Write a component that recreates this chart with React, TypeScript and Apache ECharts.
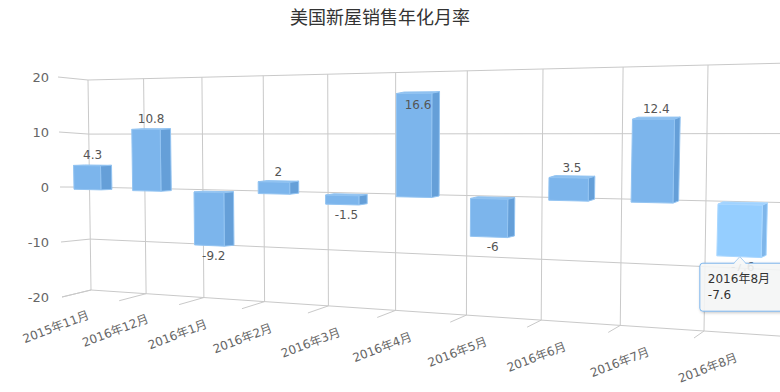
import React, { useEffect, useRef } from "react";
import * as echarts from "echarts";

const titleText = "美国新屋销售年化月率";
const categories = ["2015年11月", "2016年12月", "2016年1月", "2016年2月", "2016年3月", "2016年4月", "2016年5月", "2016年6月", "2016年7月", "2016年8月"];
const values = [4.3, 10.8, -9.2, 2, -1.5, 16.6, -6, 3.5, 12.4, -7.6];
const yTicks = [-20, -10, 0, 10, 20];
const hoveredIndex = 9;

const W = 780, H = 392;
const GRID = { left: 60, top: 77, width: 700, height: 220 };
const FONT = "'DejaVu Sans', 'Noto Sans CJK SC', sans-serif";

type P = [number, number];
// Square-to-quad projective map: the flat chart plane is warped on to a tilted plane.
function homography(p0: P, p1: P, p2: P, p3: P) {
  const dx1 = p1[0] - p2[0], dx2 = p3[0] - p2[0], sx = p0[0] - p1[0] + p2[0] - p3[0];
  const dy1 = p1[1] - p2[1], dy2 = p3[1] - p2[1], sy = p0[1] - p1[1] + p2[1] - p3[1];
  const den = dx1 * dy2 - dx2 * dy1;
  const g = (sx * dy2 - dx2 * sy) / den, h = (dx1 * sy - sx * dy1) / den;
  const a = p1[0] - p0[0] + g * p1[0], b = p3[0] - p0[0] + h * p3[0], c = p0[0];
  const d = p1[1] - p0[1] + g * p1[1], e = p3[1] - p0[1] + h * p3[1], f = p0[1];
  return (s: number, t: number): P => {
    const w = g * s + h * t + 1;
    return [(a * s + b * t + c) / w, (d * s + e * t + f) / w];
  };
}
const LAST = categories.length - 1;
const wallPlane = homography([88, 80], [708, 65], [704, 331], [91, 290]);
const backWall = (s: number, t: number) => wallPlane(s, t + 0.03 * t * (1 - t));
const frontPlane = homography([58, 76], [706, 60], [694, 338], [62, 297]);
const barPlane = homography([72, 78], [721, 66.5], [715, 339.5], [76, 299]);

// Turn a position from the chart's own axes into plane coordinates.
const toS = (px: number, band: number) => ((px - GRID.left) / band - 0.5) / LAST;
const toT = (py: number) => (py - GRID.top) / GRID.height;

const LINE = "#c9c9c9";
const FRONT = "#7cb5ec", FRONT_EDGE = "#93c4f2", SIDE = "#659fd8", TOP = "#8cc0f0";
const HOT = "#95ceff", HOT_EDGE = "#a9d7ff", HOT_SIDE = "#7fb6ea", HOT_TOP = "#9fd2ff";

const lineEl = (a: P, b: P, stroke = LINE) => ({
  type: "line",
  shape: { x1: a[0], y1: a[1], x2: b[0], y2: b[1] },
  style: { stroke, lineWidth: 1, fill: "none" },
  silent: true,
});

function renderHLine(_: any, api: any) {
  const v = api.value(1);
  const band = api.size([1, 0])[0];
  const [px, py] = api.coord([0, v]);
  const t = toT(py);
  const s0 = toS(px, band);
  const front: P = [frontPlane(0, t)[0], py];
  const back = backWall(s0, t);
  const far = backWall((LAST + 1.1) / LAST, t);
  return { type: "group", children: [lineEl(front, back), lineEl(back, far)] };
}

function renderVLine(_: any, api: any) {
  const i = api.value(0);
  const band = api.size([1, 0])[0];
  const [px, top] = api.coord([i, yTicks[yTicks.length - 1]]);
  const bottom = api.coord([i, yTicks[0]])[1];
  const s = toS(px, band);
  const a = backWall(s, toT(top)), b = backWall(s, toT(bottom));
  const foot = frontPlane(s, toT(bottom));
  const u = s * LAST;
  return {
    type: "group",
    children: [
      lineEl(a, b),
      lineEl(b, foot),
      {
        type: "text",
        x: foot[0] - 6 + 2.2 * u,
        y: foot[1] + 30,
        rotation: (21 * Math.PI) / 180,
        silent: true,
        style: {
          text: categories[i],
          fill: "#666666",
          fontSize: 12,
          fontFamily: FONT,
          align: "center",
          verticalAlign: "middle",
        },
      },
    ],
  };
}

function barSpan(i: number): [number, number] {
  const left = i - 0.001 * i * (LAST - i);
  return [left / LAST, (left + 0.46 + 0.004 * i) / LAST];
}

function renderBar(_: any, api: any) {
  const i = api.value(0), v = api.value(1);
  const [, pv] = api.coord([i, v]);
  const p0 = api.coord([i, 0])[1];
  const [u0, u1] = barSpan(i);
  const hi = toT(Math.min(pv, p0)), lo = toT(Math.max(pv, p0));
  const fl = barPlane(u0, hi), fr = barPlane(u1, hi), br = barPlane(u1, lo), bl = barPlane(u0, lo);
  const dx = 11 - (6 * i) / LAST, dy = -(0.5 + 0.2 * i);
  const off = (p: P): P => [p[0] + dx, p[1] + dy];
  const hot = i === hoveredIndex;
  const face = (pts: P[], fill: string) => ({
    type: "polygon",
    shape: { points: pts },
    silent: true,
    style: { fill, stroke: hot ? HOT_EDGE : FRONT_EDGE, lineWidth: 1 },
  });
  const inside = v > 15;
  const cx = (fl[0] + off(fr)[0]) / 2;
  const ly = v >= 0 ? (inside ? fl[1] + 11 : fl[1] - 10) : bl[1] + 11;
  return {
    type: "group",
    children: [
      face([fl, fr, off(fr), off(fl)], hot ? HOT_TOP : TOP),
      face([fr, off(fr), off(br), br], hot ? HOT_SIDE : SIDE),
      face([fl, fr, br, bl], hot ? HOT : FRONT),
      {
        type: "text",
        x: cx,
        y: ly,
        silent: true,
        style: {
          text: String(v),
          fill: "#555555",
          fontSize: 12,
          fontFamily: FONT,
          align: "center",
          verticalAlign: "middle",
        },
      },
    ],
  };
}

function renderTooltip(_: any, api: any) {
  const i = api.value(0), v = api.value(1);
  const [, pv] = api.coord([i, v]);
  const [u0, u1] = barSpan(i);
  const foot = barPlane((u0 + u1) / 2, toT(pv));
  const tipX = foot[0] + 1, tipY = foot[1];
  const boxX = tipX - 40, boxY = tipY + 6.5;
  const fill = "rgba(247,248,248,0.88)";
  return {
    type: "group",
    children: [
      {
        type: "rect",
        shape: { x: boxX, y: boxY, width: 120, height: 48, r: 3 },
        silent: true,
        style: { fill, stroke: FRONT, lineWidth: 1, shadowBlur: 3, shadowColor: "rgba(0,0,0,0.25)", shadowOffsetX: 1, shadowOffsetY: 1 },
      },
      {
        type: "polygon",
        shape: { points: [[tipX - 6, boxY + 0.8], [tipX, tipY], [tipX + 6, boxY + 0.8]] },
        silent: true,
        style: { fill: "#f7f8f8" },
      },
      {
        type: "polyline",
        shape: { points: [[tipX - 6, boxY], [tipX, tipY], [tipX + 6, boxY]] },
        silent: true,
        style: { stroke: "#a9cff3", lineWidth: 1, fill: "none" },
      },
      {
        type: "text",
        x: boxX + 8,
        y: boxY + 16,
        silent: true,
        style: { text: categories[i], fill: "#333333", fontSize: 12, fontFamily: FONT, align: "left", verticalAlign: "middle" },
      },
      {
        type: "text",
        x: boxX + 8,
        y: boxY + 32,
        silent: true,
        style: { text: String(v), fill: "#333333", fontSize: 12, fontFamily: FONT, align: "left", verticalAlign: "middle" },
      },
    ],
  };
}

export default function App() {
  const ref = useRef<HTMLDivElement>(null);
  useEffect(() => {
    document.body.style.margin = "0";
    document.body.style.overflow = "hidden";
    const chart = echarts.init(ref.current!, undefined, { renderer: "svg" });
    const barRows = values.map((v, i) => [i, v]);
    chart.setOption({
      animation: false,
      backgroundColor: "#ffffff",
      title: {
        text: titleText,
        left: 375,
        top: 2,
        textAlign: "center",
        textStyle: { fontSize: 18, fontWeight: "normal", color: "#333333", fontFamily: "'Noto Sans CJK SC', sans-serif" },
      },
      tooltip: { show: false },
      legend: { show: false },
      grid: { ...GRID, containLabel: false },
      xAxis: { type: "category", data: categories, show: false },
      yAxis: {
        type: "value",
        min: -20,
        max: 20,
        interval: 10,
        axisLine: { show: false },
        axisTick: { show: false },
        splitLine: { show: false },
        axisLabel: { margin: 11, color: "#666666", fontSize: 13, fontFamily: FONT },
      },
      series: [
        { type: "custom", z: 1, data: yTicks.map((v) => [0, v]), renderItem: renderHLine, encode: { x: 0, y: 1 }, silent: true, clip: false },
        { type: "custom", z: 1, data: categories.map((_, i) => [i, 20]), renderItem: renderVLine, encode: { x: 0, y: 1 }, silent: true, clip: false },
        { type: "custom", z: 2, data: barRows, renderItem: renderBar, encode: { x: 0, y: 1 }, silent: true, clip: false },
        { type: "custom", z: 3, data: [barRows[hoveredIndex]], renderItem: renderTooltip, encode: { x: 0, y: 1 }, silent: true, clip: false },
      ],
    });
    return () => chart.dispose();
  }, []);
  return <div ref={ref} style={{ width: W, height: H, position: "absolute", left: 0, top: 0, overflow: "hidden" }} />;
}
